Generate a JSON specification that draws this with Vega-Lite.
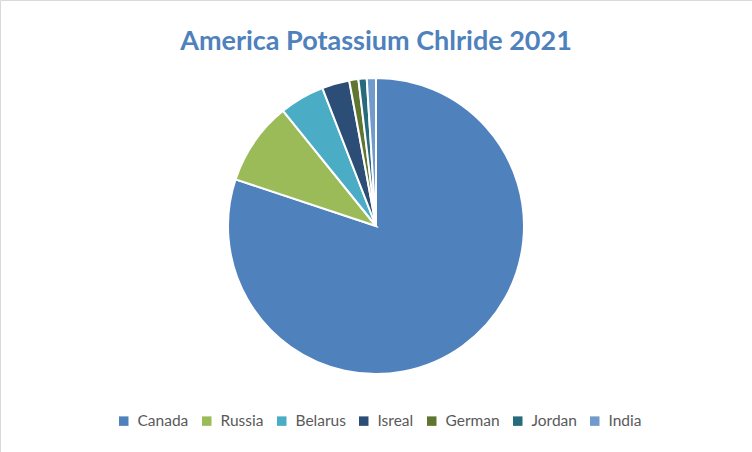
{
  "$schema": "https://vega.github.io/schema/vega-lite/v6.json",
  "width": 752,
  "height": 452,
  "padding": 0,
  "autosize": "none",
  "background": "white",
  "title": {
    "text": "America Potassium Chlride 2021",
    "font": "Lato",
    "fontSize": 27,
    "fontWeight": "bold",
    "color": "#4F81BD",
    "anchor": "middle",
    "offset": -56
  },
  "data": {
    "values": [
      {"country": "Canada", "share": 80.1, "rank": 1},
      {"country": "Russia", "share": 9.1, "rank": 2},
      {"country": "Belarus", "share": 4.9, "rank": 3},
      {"country": "Isreal", "share": 3.0, "rank": 4},
      {"country": "German", "share": 1.0, "rank": 5},
      {"country": "Jordan", "share": 0.9, "rank": 6},
      {"country": "India", "share": 1.0, "rank": 7}
    ]
  },
  "mark": {"type": "arc", "outerRadius": 148, "stroke": "white", "strokeWidth": 2},
  "encoding": {
    "theta": {"field": "share", "type": "quantitative", "stack": true},
    "order": {"field": "rank", "type": "quantitative"},
    "color": {
      "field": "country",
      "type": "nominal",
      "scale": {
        "domain": ["Canada", "Russia", "Belarus", "Isreal", "German", "Jordan", "India"],
        "range": ["#4F81BD", "#9BBB59", "#4BACC6", "#2C4D75", "#5F7530", "#276A7C", "#729ACA"]
      },
      "legend": {
        "title": null,
        "orient": "none",
        "direction": "horizontal",
        "legendX": 116,
        "legendY": 413,
        "symbolType": "square",
        "symbolSize": 90,
        "symbolStrokeWidth": 0,
        "labelFont": "Lato",
        "labelFontSize": 15.5,
        "labelColor": "#595959",
        "columnPadding": 10,
        "labelOffset": 6
      }
    }
  },
  "view": {"stroke": "#D9D9D9", "strokeWidth": 1}
}
